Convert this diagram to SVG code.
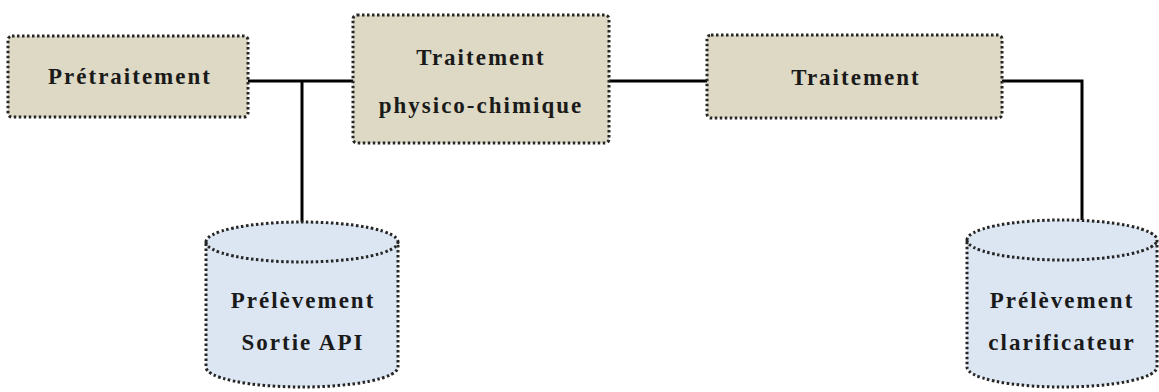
<svg xmlns="http://www.w3.org/2000/svg" width="1159" height="392" viewBox="0 0 1159 392">
  <style>
    .box { fill: #DDD9C4; stroke: #262626; stroke-width: 3; stroke-dasharray: 2.5 2.5; }
    .cyl { fill: #DCE6F2; stroke: #262626; stroke-width: 3; stroke-dasharray: 2.5 2.5; }
    .wire { fill: none; stroke: #000; stroke-width: 3; }
  </style>
  <rect width="1159" height="392" fill="#fff"/>

  <g id="connectors">
    <line class="wire" x1="248" y1="81" x2="353" y2="81"/>
    <line class="wire" x1="302" y1="81" x2="302" y2="222"/>
    <line class="wire" x1="609" y1="81" x2="707" y2="81"/>
    <polyline class="wire" points="1002,81 1082,81 1082,220"/>
  </g>

  <!-- labels share one serif bold face -->
  <g font-family="Liberation Serif, serif" font-weight="bold" font-size="23" letter-spacing="2" fill="#1a1a1a" text-anchor="middle">
    <g id="pretraitement">
      <rect class="box" x="8" y="36" width="240" height="81" rx="4"/>
      <text x="130" y="84">Prétraitement</text>
    </g>

    <g id="physico-chimique">
      <rect class="box" x="353" y="15" width="256" height="128" rx="4"/>
      <text x="481" y="65">Traitement</text>
      <text x="481" y="113">physico-chimique</text>
    </g>

    <g id="traitement">
      <rect class="box" x="707" y="35" width="295" height="83" rx="4"/>
      <text x="856" y="85">Traitement</text>
    </g>

    <g id="prelevement-api">
      <path class="cyl" d="M206,242 A96,20 0 0 1 398,242 L398,367 A96,20 0 0 1 206,367 Z"/>
      <path class="cyl" style="fill:none" d="M206,242 A96,20 0 0 0 398,242"/>
      <text x="303" y="308">Prélèvement</text>
      <text x="303" y="350">Sortie API</text>
    </g>

    <g id="prelevement-clarificateur">
      <path class="cyl" d="M967,240 A95,20 0 0 1 1157,240 L1157,367 A95,20 0 0 1 967,367 Z"/>
      <path class="cyl" style="fill:none" d="M967,240 A95,20 0 0 0 1157,240"/>
      <text x="1062" y="308">Prélèvement</text>
      <text x="1062" y="350">clarificateur</text>
    </g>
  </g>
</svg>
